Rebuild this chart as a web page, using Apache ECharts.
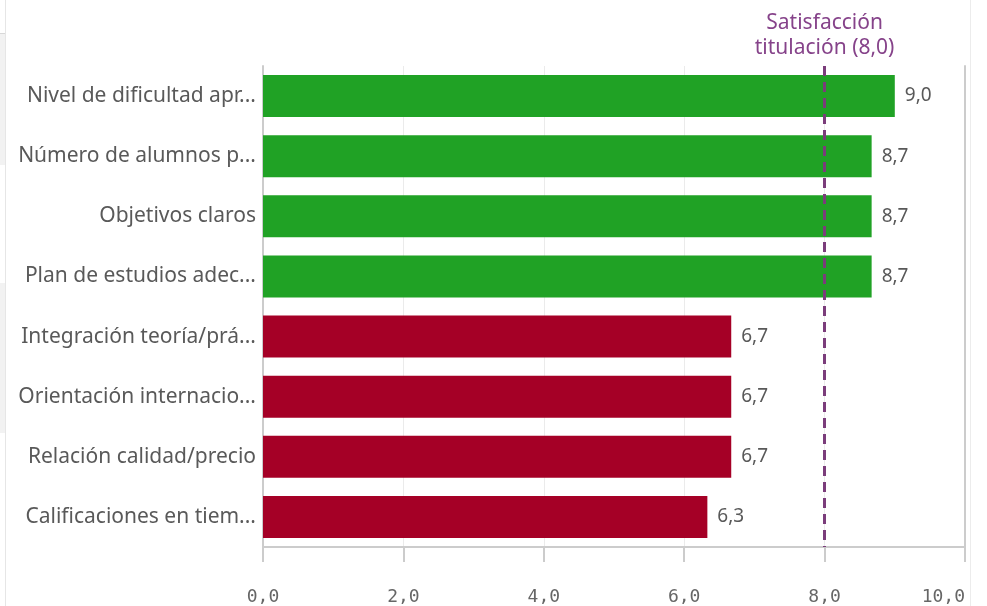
<!DOCTYPE html>
<html>
<head>
<meta charset="utf-8">
<script src="https://cdn.jsdelivr.net/npm/echarts@6/dist/echarts.min.js"></script>
<style>
html,body{margin:0;padding:0;background:#fff;}
#chart{width:987px;height:606px;}
</style>
</head>
<body>
<div id="chart"></div>
<script>
// categorias (de arriba abajo) y valores
var categorias = [
	"Nivel de dificultad apr...",
	"Número de alumnos p...",
	"Objetivos claros",
	"Plan de estudios adec...",
	"Integración teoría/prá...",
	"Orientación internacio...",
	"Relación calidad/precio",
	"Calificaciones en tiem..."
];
var valores = [9.0, 8.67, 8.67, 8.67, 6.67, 6.67, 6.67, 6.33];
var satisfaccion = 8.0;

var verde = "#20a225", rojo = "#a50026";

function coma(v){ return v.toFixed(1).replace(".", ","); }

var chart = echarts.init(document.getElementById("chart"));
var option = {
	animation:false,
	grid:{left:263, right:22, top:66, bottom:58},
	xAxis:{
		type:"value",
		min:0, max:10, interval:2,
		axisLine:{show:true, lineStyle:{color:"#cccccc", width:2}},
		axisTick:{show:true, length:15, lineStyle:{color:"#cccccc", width:2}},
		axisLabel:{
			margin:41, fontSize:18, color:"#666666",
			fontFamily:"DejaVu Sans Mono",
			alignMaxLabel:"right",
			formatter:function(v){ return coma(v); }
		},
		splitLine:{show:true, lineStyle:{color:"#ebebeb", width:1}}
	},
	yAxis:[{
		type:"category",
		inverse:true,
		data:categorias,
		axisLine:{show:true, lineStyle:{color:"#cccccc", width:2}},
		axisTick:{show:false},
		axisLabel:{margin:7, fontSize:21, color:"#595959", fontFamily:"Noto Sans"}
	},{
		type:"category",
		position:"right",
		inverse:true,
		data:categorias,
		axisLine:{show:true, lineStyle:{color:"#cccccc", width:2}},
		axisTick:{show:false},
		axisLabel:{show:false}
	}],
	series:[{
		type:"bar",
		data:valores.map(function(v){
			return {value:v, itemStyle:{color: v >= satisfaccion ? verde : rojo}};
		}),
		barCategoryGap:"30%",
		label:{
			show:true, position:"right", distance:10,
			fontSize:19, color:"#595959", fontFamily:"Noto Sans",
			formatter:function(p){ return coma(p.value); }
		},
		markLine:{
			silent:true,
			symbol:"none",
			lineStyle:{color:"#7b3d7b", type:[10,6], width:3},
			label:{
				show:true, position:"start", distance:5,
				fontSize:21, color:"#86438a", fontFamily:"Noto Sans",
				lineHeight:25, align:"center",
				formatter:"Satisfacción\ntitulación (" + coma(satisfaccion) + ")"
			},
			data:[{xAxis:satisfaccion}]
		}
	}],
	graphic:[
		{type:"line", shape:{x1:5.5, y1:0, x2:5.5, y2:606}, style:{stroke:"#e6e6e6", lineWidth:1}},
		{type:"line", shape:{x1:0, y1:33.5, x2:5, y2:33.5}, style:{stroke:"#d8d8d8", lineWidth:1}},
		{type:"rect", shape:{x:0, y:34, width:5, height:131}, style:{fill:"#f2f2f2"}},
		{type:"rect", shape:{x:0, y:283, width:5, height:150}, style:{fill:"#f2f2f2"}},
		{type:"line", shape:{x1:970.5, y1:0, x2:970.5, y2:606}, style:{stroke:"#ececec", lineWidth:1}}
	]
};
chart.setOption(option);
</script>
</body>
</html>
